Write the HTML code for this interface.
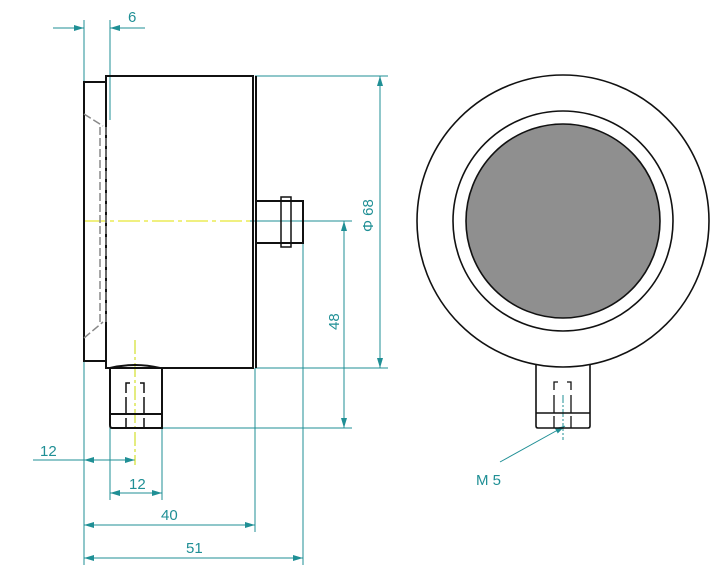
<!DOCTYPE html>
<html><head><meta charset="utf-8"><style>
html,body{margin:0;padding:0;background:#fff;}
svg{display:block;}
text{font-family:"Liberation Sans","DejaVu Sans",sans-serif;fill:#1f8f95;font-size:15px;}
</style></head><body>
<svg width="718" height="573" viewBox="0 0 718 573" xmlns="http://www.w3.org/2000/svg">
<defs>
<marker id="a" viewBox="0 0 10 6" refX="10" refY="3" markerWidth="10" markerHeight="6" orient="auto-start-reverse" markerUnits="userSpaceOnUse">
<path d="M0,0 L10,3 L0,6 z" fill="#1f8f95"/></marker>
</defs>
<!-- extension / dimension lines -->
<g stroke="#1f8f95" stroke-width="1" fill="none">
<line x1="84" y1="20" x2="84" y2="82"/>
<line x1="110" y1="20" x2="110" y2="120"/>
<line x1="53" y1="28" x2="84" y2="28" marker-end="url(#a)"/>
<line x1="145" y1="28" x2="110" y2="28" marker-end="url(#a)"/>
<line x1="255" y1="76" x2="388" y2="76"/>
<line x1="255" y1="368" x2="388" y2="368"/>
<line x1="380" y1="76" x2="380" y2="368" marker-start="url(#a)" marker-end="url(#a)"/>
<line x1="250" y1="221" x2="352" y2="221"/>
<line x1="162" y1="428" x2="352" y2="428"/>
<line x1="344" y1="221" x2="344" y2="428" marker-start="url(#a)" marker-end="url(#a)"/>
<line x1="84" y1="361" x2="84" y2="565"/>
<line x1="110" y1="428" x2="110" y2="500"/>
<line x1="162" y1="428" x2="162" y2="500"/>
<line x1="255" y1="368" x2="255" y2="532"/>
<line x1="303" y1="243" x2="303" y2="565"/>
<line x1="33" y1="460" x2="84" y2="460"/>
<line x1="100" y1="460" x2="84" y2="460" marker-end="url(#a)"/>
<line x1="84" y1="460" x2="135" y2="460" marker-end="url(#a)"/>
<line x1="110" y1="493" x2="162" y2="493" marker-start="url(#a)" marker-end="url(#a)"/>
<line x1="84" y1="525" x2="255" y2="525" marker-start="url(#a)" marker-end="url(#a)"/>
<line x1="84" y1="558" x2="303" y2="558" marker-start="url(#a)" marker-end="url(#a)"/>
<line x1="500" y1="462" x2="565" y2="426" marker-end="url(#a)"/>
</g>
<!-- centre lines -->
<line x1="84" y1="221" x2="250" y2="221" stroke="#e0e000" stroke-width="1" stroke-dasharray="22,4,4,4"/>
<line x1="135" y1="340" x2="135" y2="465" stroke="#c8d800" stroke-width="1" stroke-dasharray="14,3,3,3"/>
<line x1="563" y1="395" x2="563" y2="440" stroke="#1f8f95" stroke-width="1" stroke-dasharray="8,2,2,2"/>
<!-- side view -->
<g stroke="#111" stroke-width="2" fill="none">
<rect x="106" y="76" width="147" height="292"/>
<line x1="256" y1="76" x2="256" y2="368"/>
<polyline points="106,82 84,82 84,361 106,361"/>
<rect x="256" y="201" width="47" height="42"/>
<rect x="281" y="197" width="10" height="50" stroke-width="1.5"/>
<path d="M110,368 Q135,362 160,368 L162,368 L162,428 L112,428 Q110,428 110,425 Z"/>
<line x1="110" y1="414" x2="162" y2="414"/>
<path d="M126,393 V383 H130 M140,383 H144 V393" stroke-width="1.5"/>
<path d="M126,397 V414 M144,397 V414 M126,418 V428 M144,418 V428" stroke-width="1.5"/>
</g>
<g stroke="#888" stroke-width="1.5" fill="none" stroke-dasharray="8,3">
<line x1="100" y1="127" x2="100" y2="322"/>
<line x1="106" y1="127" x2="106" y2="322"/>
<line x1="84" y1="114" x2="103" y2="126"/>
<line x1="84" y1="338" x2="103" y2="322"/>
</g>
<!-- front view -->
<g stroke="#111" stroke-width="1.6" fill="none">
<circle cx="563" cy="221" r="146"/>
<circle cx="563" cy="221" r="110"/>
<circle cx="563" cy="221" r="97" fill="#8f8f8f"/>
<path d="M536,365 V426 Q536,428 538,428 H588 Q590,428 590,426 V365"/>
<line x1="536" y1="413" x2="590" y2="413"/>
<path d="M554,390 V382 H558 M567,382 H571 V390" stroke-width="1.3"/>
<path d="M554,395 V413 M571,395 V413 M554,416 V428 M571,416 V428" stroke-width="1.3"/>
</g>
<!-- labels -->
<text x="128" y="22">6</text>
<text x="40" y="456">12</text>
<text x="129" y="489">12</text>
<text x="161" y="520">40</text>
<text x="186" y="553">51</text>
<text x="476" y="485">M 5</text>
<text transform="translate(373,232) rotate(-90)">Φ 68</text>
<text transform="translate(339,330) rotate(-90)">48</text>
</svg>
</body></html>
